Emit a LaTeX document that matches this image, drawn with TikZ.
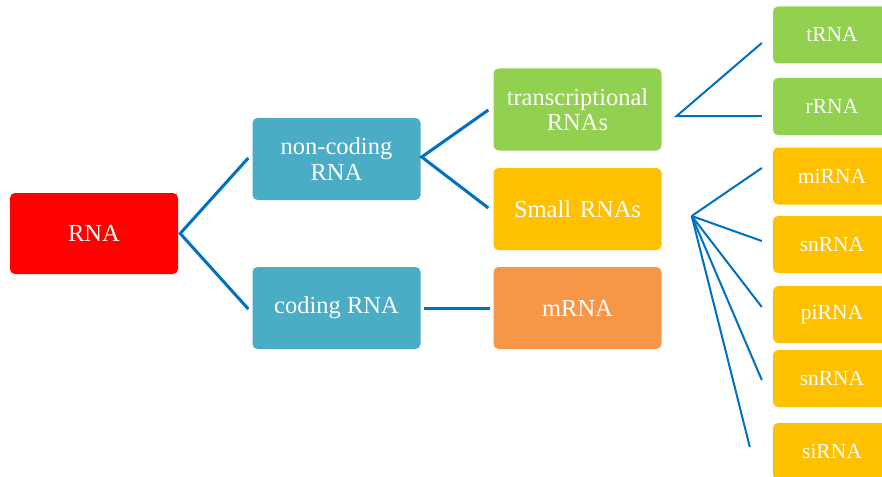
\documentclass[tikz,border=0pt]{standalone}
\usepackage{fontspec}
\setmainfont{Liberation Serif}
\definecolor{rnared}{HTML}{FF0000}
\definecolor{aqua}{HTML}{4BACC6}
\definecolor{leafgreen}{HTML}{92D050}
\definecolor{gold}{HTML}{FFC000}
\definecolor{mrnaorange}{HTML}{F79646}
\definecolor{linkblue}{HTML}{0070C0}
\begin{document}
\begin{tikzpicture}[x=1pt,y=-1pt,
  box/.style={rounded corners=5pt, inner sep=0pt, minimum width=168pt, minimum height=82pt,
    text=white, font=\fontsize{24.5}{25}\selectfont, align=center},
  leaf/.style={box, minimum width=118pt, minimum height=57pt, font=\fontsize{21.5}{23}\selectfont},
  bigline/.style={line width=3pt, draw=linkblue},
  thinline/.style={line width=2pt, draw=linkblue}]
\useasboundingbox (0,0) rectangle (882,476);
\clip (0,0) rectangle (882,476);
% main boxes
\node[box, fill=rnared, minimum height=81pt] (rna) at (94,233.5) {RNA};
\node[box, fill=aqua] (nc) at (336.5,159) {non-coding\\RNA};
\node[box, fill=aqua] (coding) at (336.5,308) {\raisebox{-3pt}{coding RNA}};
\node[box, fill=leafgreen] (tr) at (577.5,109.5) {transcriptional\\RNAs};
\node[box, fill=gold] (small) at (577.5,209) {Small\hspace{0.35em}RNAs};
\node[box, fill=mrnaorange] (mrna) at (577.5,308) {mRNA};
% leaves
\node[leaf, fill=leafgreen] (trna) at (832,35) {tRNA};
\node[leaf, fill=leafgreen] (rrna) at (832,106.5) {rRNA};
\node[leaf, fill=gold] (mirna) at (832,176) {miRNA};
\node[leaf, fill=gold] (snrnaA) at (832,244.5) {snRNA};
\node[leaf, fill=gold] (pirna) at (832,314.5) {piRNA};
\node[leaf, fill=gold] (snrnaB) at (832,378.5) {snRNA};
\node[leaf, fill=gold] (sirna) at (832,451.5) {siRNA};
% junctions
\coordinate (j1) at ([xshift=2]rna.east);
\coordinate (j2) at ([shift={(1,-2)}]nc.east);
\coordinate (j3) at ([shift={(15,6.5)}]tr.east);
\coordinate (j4) at ([shift={(30,7)}]small.east);
% connectors
\draw[bigline] ([shift={(-4,-1)}]nc.west) -- (j1) -- ([shift={(-4,1)}]coding.west);
\draw[bigline] ([shift={(-5,0.5)}]tr.west) -- (j2) -- ([shift={(-5,-1)}]small.west);
\draw[bigline] ([xshift=3]coding.east) -- ([xshift=-3]mrna.west);
\draw[thinline] ([shift={(-11,8)}]trna.west) -- (j3) -- ([shift={(-11,9.5)}]rrna.west);
\draw[thinline] (j4) -- ([shift={(-11,-8)}]mirna.west);
\draw[thinline] (j4) -- ([shift={(-11,-3.5)}]snrnaA.west);
\draw[thinline] (j4) -- ([shift={(-11,-7.5)}]pirna.west);
\draw[thinline] (j4) -- ([shift={(-11,1.5)}]snrnaB.west);
\draw[thinline] (j4) -- ([shift={(-23,-4.5)}]sirna.west);
\end{tikzpicture}
\end{document}
